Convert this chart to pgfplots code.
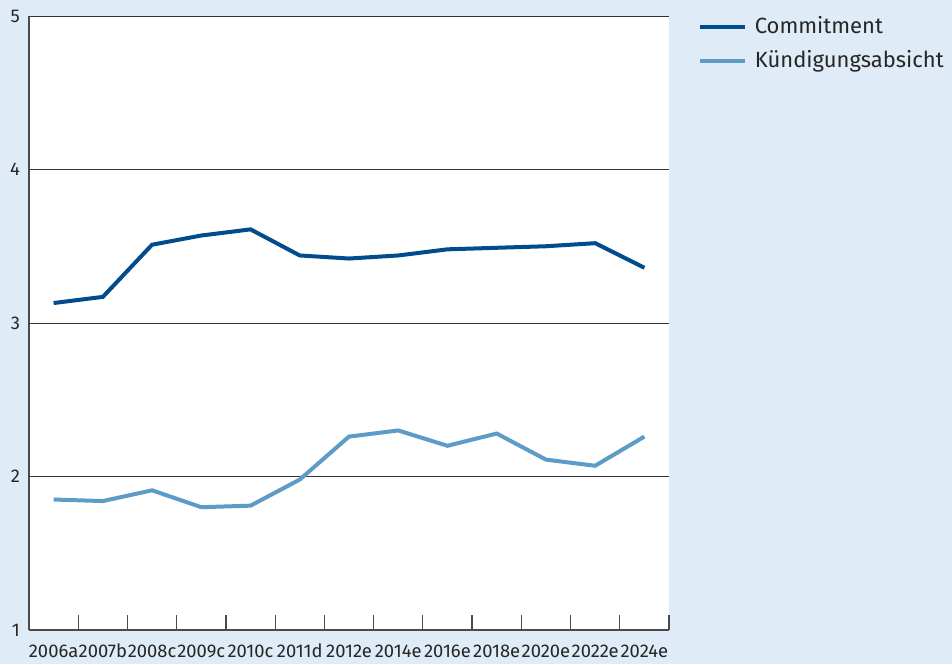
\documentclass[border=0pt]{standalone}
\usepackage{fontspec}
\setmainfont{Fira Sans}
\usepackage{pgfplots}
\pgfplotsset{compat=1.18}
\definecolor{bgBlue}{HTML}{DFEBF7}
\definecolor{cCommit}{HTML}{004C8C}
\definecolor{cKuend}{HTML}{5E9CC8}
\definecolor{cAxis}{HTML}{4A4A4A}

\begin{document}
\begin{tikzpicture}
% background, 1px = 0.5pt
\fill[bgBlue] (0,0) rectangle (476pt,332pt);
\begin{axis}[
    at={(14.5pt,17pt)}, anchor=south west,
    width=320pt, height=307pt, scale only axis,
    axis background/.style={fill=white},
    xmin=-0.5, xmax=12.5,
    ymin=1, ymax=5,
    axis x line*=bottom, axis y line*=left,
    axis line style={-, draw=cAxis, line width=0.6pt},
    xtick={0,...,12},
    xticklabels={2006a,2007b,2008c,2009c,2010c,2011d,2012e,2014e,2016e,2018e,2020e,2022e,2024e},
    minor xtick={0.5,1.5,...,12.5},
    major x tick style={draw=none},
    minor x tick style={draw=cAxis, line width=0.6pt},
    minor tick length=7.5pt,
    tick align=inside,
    ytick={1,2,3,4,5},
    major y tick style={draw=none},
    ymajorgrids,
    grid style={draw=black!80, line width=0.5pt},
    tick label style={font=\fontsize{9.2}{11}\selectfont, text=black!85},
    xticklabel style={anchor=north, yshift=-3pt, text height=7pt, text depth=1pt, inner xsep=0pt},
    yticklabel style={anchor=east, xshift=-1pt},
    /pgf/number format/assume math mode=true,
    legend style={at={(1.035,1.013)}, anchor=north west, draw=none, fill=none,
        font=\fontsize{11}{13}\selectfont, row sep=3pt,
        nodes={text=black!85, inner xsep=4pt}},
    legend cell align=left,
    legend image code/.code={\draw[#1, line width=2pt] (0pt,0pt) -- (22.5pt,0pt);},
    clip=false,
]
\addplot[cCommit, line width=2pt] coordinates {
    (0,3.13) (1,3.17) (2,3.51) (3,3.57) (4,3.61) (5,3.44) (6,3.42)
    (7,3.44) (8,3.48) (9,3.49) (10,3.50) (11,3.52) (12,3.36)
};
\addlegendentry{Commitment}
\addplot[cKuend, line width=2pt] coordinates {
    (0,1.85) (1,1.84) (2,1.91) (3,1.80) (4,1.81) (5,1.98) (6,2.26)
    (7,2.30) (8,2.20) (9,2.28) (10,2.11) (11,2.07) (12,2.26)
};
\addlegendentry{Kündigungsabsicht}
\end{axis}
\pgfresetboundingbox
\useasboundingbox (0,0) rectangle (476pt,332pt);
\end{tikzpicture}
\end{document}
